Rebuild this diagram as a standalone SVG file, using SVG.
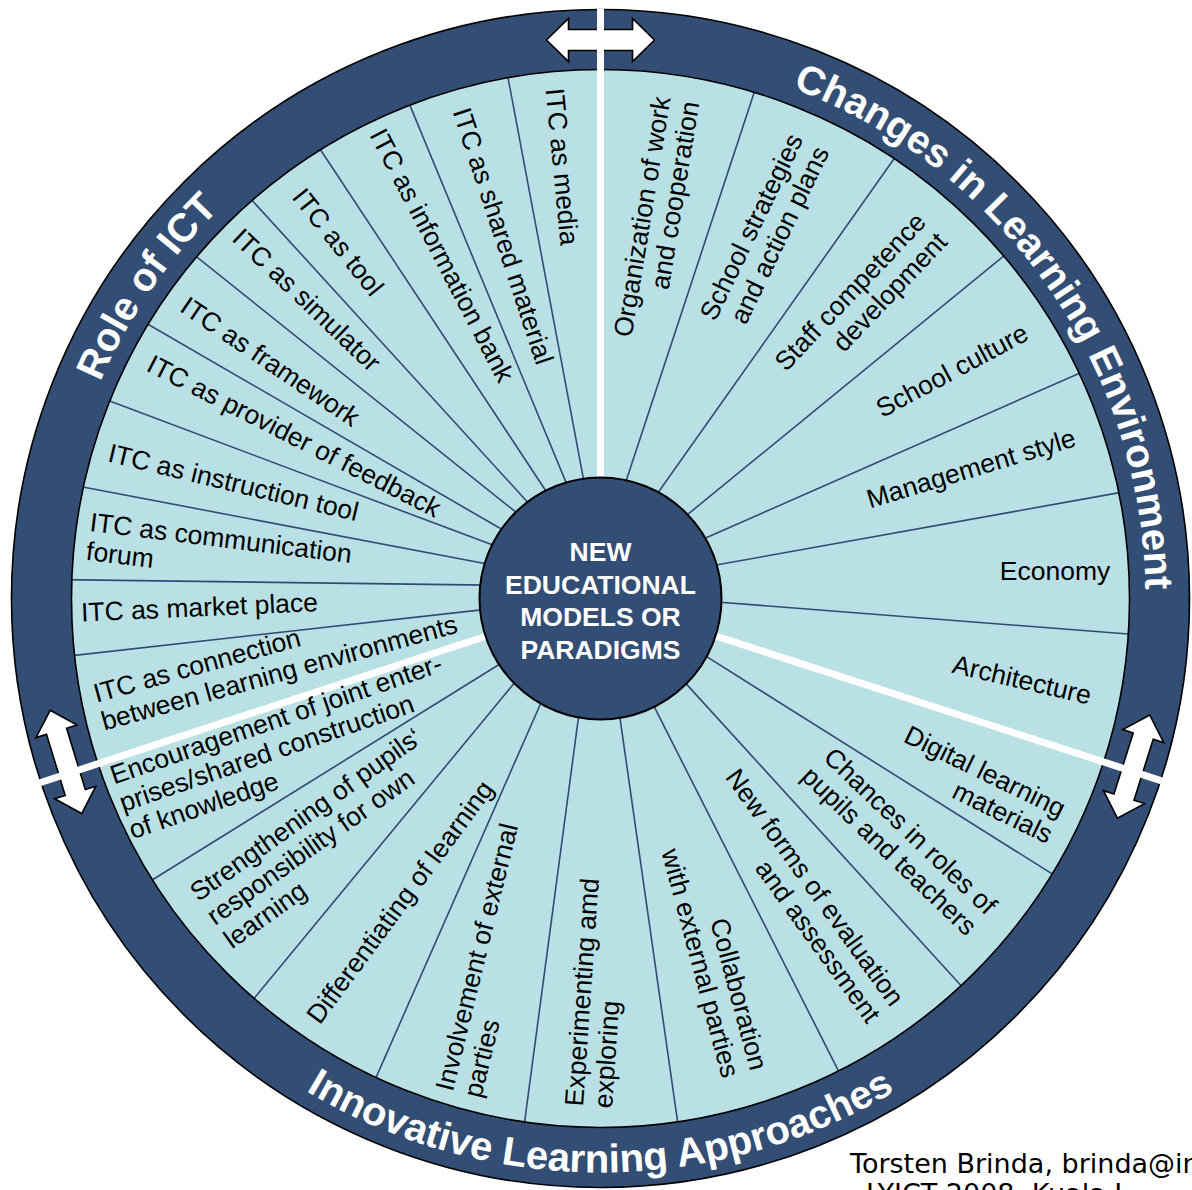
<svg xmlns="http://www.w3.org/2000/svg" width="1192" height="1190" viewBox="0 0 1192 1190">
<defs>
<style>
.seg text { font-family: "Liberation Sans", Arial, sans-serif; font-size: 26.5px; fill: #000; dominant-baseline: central; }
.seg tspan { dominant-baseline: central; }
.div line { stroke: #2f4b74; stroke-width: 1.6; }
.sep line { stroke: #fff; stroke-width: 7; }
.ringtitle { font-family: "Liberation Sans", Arial, sans-serif; font-weight: bold; font-size: 40px; fill: #fff; text-anchor: middle; }
.arrow { fill: #fff; stroke: #000; stroke-width: 1.6; stroke-linejoin: miter; }
.hub text { font-family: "Liberation Sans", Arial, sans-serif; font-weight: bold; font-size: 26.5px; fill: #fff; text-anchor: middle; }
.credit { font-family: "DejaVu Sans", Verdana, sans-serif; font-size: 27px; fill: #000; }
</style>
<path id="arcTop" d="M 55.5 598.5 A 545 545 0 1 1 1145.5 598.5 A 545 545 0 1 1 55.5 598.5"/>
<path id="arcBottom" d="M 26.5 598.5 A 574 574 0 0 0 1174.5 598.5"/>
</defs>
<rect width="1192" height="1190" fill="#fff"/>
<circle id="field" cx="600.5" cy="598.5" r="529" fill="#b9e0e4"/>
<g id="dividers" class="div">
<line x1="506.2" y1="67.9" x2="584.2" y2="482.9"/>
<line x1="405.6" y1="94.9" x2="568.1" y2="487.4"/>
<line x1="315.2" y1="141.7" x2="548.4" y2="494.7"/>
<line x1="245.1" y1="192.7" x2="530.4" y2="505.2"/>
<line x1="189.3" y1="251" x2="519.5" y2="515"/>
<line x1="139.8" y1="319.5" x2="506.9" y2="532.3"/>
<line x1="100.4" y1="397.5" x2="498.2" y2="547.1"/>
<line x1="73.6" y1="485.2" x2="491.2" y2="564.8"/>
<line x1="60.8" y1="579.6" x2="487.3" y2="585.1"/>
<line x1="63.6" y1="656.6" x2="488" y2="609.1"/>
<line x1="144.5" y1="884.7" x2="505.1" y2="660.8"/>
<line x1="248.1" y1="1005.7" x2="517.8" y2="678.8"/>
<line x1="370.3" y1="1090.6" x2="543.2" y2="697.7"/>
<line x1="522.2" y1="1139.9" x2="579.4" y2="710.4"/>
<line x1="678.8" y1="1130.2" x2="618.9" y2="710.4"/>
<line x1="841.6" y1="1077.1" x2="651.4" y2="701.2"/>
<line x1="967.3" y1="992.5" x2="681.9" y2="679.1"/>
<line x1="1058.5" y1="877.9" x2="699.9" y2="652.4"/>
<line x1="1137.8" y1="634.8" x2="713.7" y2="601.7"/>
<line x1="1134.8" y1="489.9" x2="711.9" y2="565.8"/>
<line x1="1093.2" y1="367.2" x2="701" y2="540.1"/>
<line x1="1013.3" y1="248.2" x2="682.6" y2="518.6"/>
<line x1="900.4" y1="149.8" x2="655.5" y2="496.3"/>
<line x1="757.3" y1="83.1" x2="625.1" y2="484"/>
</g>
<path id="ring" d="M 11.5 598.5 A 589 589 0 1 1 1189.5 598.5 A 589 589 0 1 1 11.5 598.5 Z M 71.5 598.5 A 529 529 0 1 0 1129.5 598.5 A 529 529 0 1 0 71.5 598.5 Z" fill="#334e74" fill-rule="evenodd" stroke="#000" stroke-width="1.6"/>
<g id="arrows">
<polygon class="arrow" transform="translate(600.5,40)" points="-54,0 -32,-21.5 -32,-10.5 32,-10.5 32,-21.5 54,0 32,21.5 32,10.5 -32,10.5 -32,21.5"/>
<polygon class="arrow" transform="translate(65.9,761.9) rotate(73)" points="-54,0 -32,-21.5 -32,-10.5 32,-10.5 32,-21.5 54,0 32,21.5 32,10.5 -32,10.5 -32,21.5"/>
<polygon class="arrow" transform="translate(1133.6,766.6) rotate(107.5)" points="-54,0 -32,-21.5 -32,-10.5 32,-10.5 32,-21.5 54,0 32,21.5 32,10.5 -32,10.5 -32,21.5"/>
</g>
<g id="separators" class="sep">
<line x1="600.5" y1="480" x2="600.5" y2="8.5"/>
<line x1="714.6" y1="635.6" x2="1161.6" y2="780.8"/>
<line x1="486.5" y1="636" x2="40" y2="782.8"/>
</g>
<g id="ring-titles">
<text class="ringtitle"><textPath href="#arcTop" startOffset="328.2">Role of ICT</textPath></text>
<text class="ringtitle"><textPath href="#arcTop" startOffset="1378">Changes in Learning Environment</textPath></text>
<text class="ringtitle"><textPath href="#arcBottom" startOffset="50%">Innovative Learning Approaches</textPath></text>
</g>
<g id="hub" class="hub">
<circle cx="600.5" cy="598.5" r="121" fill="#334e74" stroke="#000" stroke-width="2"/>
<text x="600.5" y="561">NEW</text>
<text x="600.5" y="593.5">EDUCATIONAL</text>
<text x="600.5" y="626">MODELS OR</text>
<text x="600.5" y="658.5">PARADIGMS</text>
</g>
<g id="role-media" class="seg"><text transform="translate(562,166.5) rotate(84.5)" text-anchor="middle">ITC as media</text></g>
<g id="role-shared" class="seg"><text transform="translate(503,236) rotate(71.7)" text-anchor="middle">ITC as shared material</text></g>
<g id="role-infobank" class="seg"><text transform="translate(442,255.4) rotate(62.5)" text-anchor="middle">ITC as information bank</text></g>
<g id="role-tool" class="seg"><text transform="translate(338,242) rotate(51.5)" text-anchor="middle">ITC as tool</text></g>
<g id="role-simulator" class="seg"><text transform="translate(306.7,300) rotate(43.7)" text-anchor="middle">ITC as simulator</text></g>
<g id="role-framework" class="seg"><text transform="translate(270.2,361.6) rotate(34)" text-anchor="middle">ITC as framework</text></g>
<g id="role-feedback" class="seg"><text transform="translate(294,436) rotate(27)" text-anchor="middle">ITC as provider of feedback</text></g>
<g id="role-instruction" class="seg"><text transform="translate(233.4,482.5) rotate(13.5)" text-anchor="middle">ITC as instruction tool</text></g>
<g id="role-forum" class="seg"><text transform="translate(90,522) rotate(7)" text-anchor="start"><tspan x="0" y="0">ITC as communication</tspan><tspan x="0" y="29">forum</tspan></text></g>
<g id="role-market" class="seg"><text transform="translate(81,612.5) rotate(-2.5)" text-anchor="start">ITC as market place</text></g>
<g id="role-connection" class="seg"><text transform="translate(94,694) rotate(-15.5)" text-anchor="start"><tspan x="0" y="0">ITC as connection</tspan><tspan x="0" y="29">between learning environments</tspan></text></g>
<g id="chg-organization" class="seg"><text transform="translate(661.8,96.7) rotate(-80.7)" text-anchor="end"><tspan x="0" y="0">Organization of work</tspan><tspan x="0" y="29">and cooperation</tspan></text></g>
<g id="chg-strategies" class="seg"><text transform="translate(795.5,135.4) rotate(-64.2)" text-anchor="end"><tspan x="0" y="0">School strategies</tspan><tspan x="0" y="29">and action plans</tspan></text></g>
<g id="chg-staff" class="seg"><text transform="translate(921,217) rotate(-46.5)" text-anchor="end"><tspan x="0" y="0">Staff competence</tspan><tspan x="0" y="29">development</tspan></text></g>
<g id="chg-culture" class="seg"><text transform="translate(952,370.6) rotate(-28.2)" text-anchor="middle">School culture</text></g>
<g id="chg-management" class="seg"><text transform="translate(971,468.5) rotate(-16.8)" text-anchor="middle">Management style</text></g>
<g id="chg-economy" class="seg"><text transform="translate(1055,571)" text-anchor="middle">Economy</text></g>
<g id="chg-architecture" class="seg"><text transform="translate(1022,679.7) rotate(13.1)" text-anchor="middle">Architecture</text></g>
<g id="inn-digital" class="seg"><text transform="translate(1063.7,810) rotate(26)" text-anchor="end"><tspan x="0" y="0">Digital learning</tspan><tspan x="0" y="29">materials</tspan></text></g>
<g id="inn-roles" class="seg"><text transform="translate(992.3,909.6) rotate(43.8)" text-anchor="end"><tspan x="0" y="0">Chances in roles of</tspan><tspan x="0" y="29">pupils and teachers</tspan></text></g>
<g id="inn-evaluation" class="seg"><text transform="translate(898,1002.6) rotate(54.2)" text-anchor="end"><tspan x="0" y="0">New forms of evaluation</tspan><tspan x="0" y="29">and assessment</tspan></text></g>
<g id="inn-collaboration" class="seg"><text transform="translate(759,1069.5) rotate(75)" text-anchor="end"><tspan x="0" y="0">Collaboration</tspan><tspan x="0" y="29">with external parties</tspan></text></g>
<g id="inn-experimenting" class="seg"><text transform="translate(574,1106) rotate(-86)" text-anchor="start"><tspan x="0" y="0">Experimenting amd</tspan><tspan x="0" y="29">exploring</tspan></text></g>
<g id="inn-involvement" class="seg"><text transform="translate(444,1090) rotate(-76.2)" text-anchor="start"><tspan x="0" y="0">Involvement of external</tspan><tspan x="0" y="29">parties</tspan></text></g>
<g id="inn-differentiating" class="seg"><text transform="translate(400,902) rotate(-53.5)" text-anchor="middle">Differentiating of learning</text></g>
<g id="inn-responsibility" class="seg"><text transform="translate(193,895) rotate(-35.5)" text-anchor="start"><tspan x="0" y="0">Strengthening of pupils‘</tspan><tspan x="0" y="29">responsibility for own</tspan><tspan x="0" y="58">learning</tspan></text></g>
<g id="inn-encouragement" class="seg"><text transform="translate(111,776) rotate(-19)" text-anchor="start"><tspan x="0" y="0">Encouragement of joint enter-</tspan><tspan x="0" y="29">prises/shared construction</tspan><tspan x="0" y="58">of knowledge</tspan></text></g>
<g id="credit">
<text class="credit" x="850" y="1173">Torsten Brinda, brinda@in</text>
<text class="credit" x="866" y="1203">LYICT 2008, Kuala L</text>
</g>
</svg>
